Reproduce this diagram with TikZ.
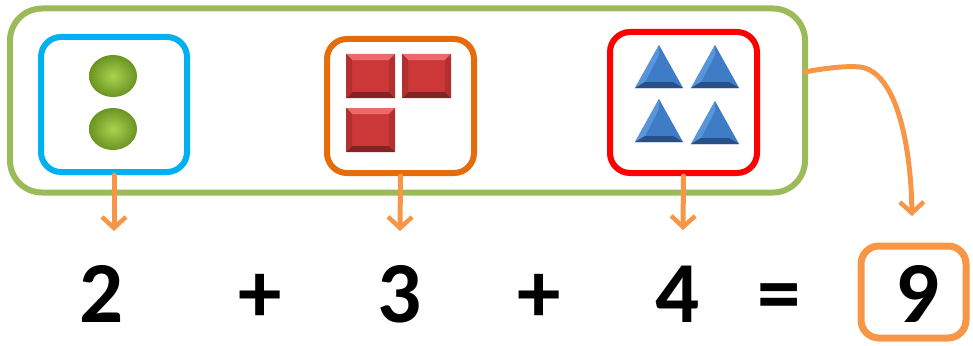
\documentclass[tikz,border=0pt]{standalone}
\usepackage{fontspec}
\setmainfont{Carlito}
\usetikzlibrary{arrows.meta}
\definecolor{gframe}{HTML}{9BBB59}
\definecolor{bframe}{HTML}{00B0F0}
\definecolor{oframe}{HTML}{E46C0A}
\definecolor{rframe}{HTML}{FF0000}
\definecolor{arrorange}{HTML}{F79646}
\definecolor{balllight}{HTML}{A8D452}
\definecolor{balldark}{HTML}{6A9420}
\definecolor{sqmid}{HTML}{CC3838}
\definecolor{sqlight}{HTML}{EC6A6A}
\definecolor{sqside}{HTML}{B23030}
\definecolor{sqdark}{HTML}{802424}
\definecolor{trimid}{HTML}{3F7CC6}
\definecolor{trilight}{HTML}{5896DC}
\definecolor{tridark}{HTML}{284F86}
\tikzset{
  framebox/.style={draw, line width=6pt, rounded corners=20pt, inner sep=0pt},
  arr/.style={draw=arrorange, line width=5pt, line cap=round, -{Straight Barb[length=11pt,width=24pt,line width=4.5pt]}},
  num/.style={font=\fontsize{87}{87}\selectfont\bfseries, inner sep=0pt, anchor=base},
  ballstyle/.style={inner color=balllight, outer color=balldark},
  rsq/.pic={
    \fill[sqmid] (0,0) rectangle (49,44);
    \fill[sqlight] (0,0) -- (49,0) -- (43,6) -- (6,6) -- cycle;
    \fill[sqdark] (0,44) -- (49,44) -- (43,38) -- (6,38) -- cycle;
    \fill[sqside] (0,0) -- (6,6) -- (6,38) -- (0,44) -- cycle;
    \fill[sqside] (49,0) -- (43,6) -- (43,38) -- (49,44) -- cycle;
  },
  btri/.pic={
    \fill[trimid] (0,0) -- (-24,43) -- (24,43) -- cycle;
    \fill[trilight] (0,0) -- (-24,43) -- (-14,37) -- (0,10) -- cycle;
    \fill[tridark] (-24,43) -- (24,43) -- (14,37) -- (-14,37) -- cycle;
  }
}
\begin{document}
\begin{tikzpicture}[x=1pt,y=-1pt]
\useasboundingbox (0,0) rectangle (973,345);
% group frame
\node[framebox, draw=gframe, rounded corners=32pt, minimum width=795pt, minimum height=184pt] (group) at (407.5,100.5) {};
% small frames
\node[framebox, draw=bframe, minimum width=146pt, minimum height=135pt] (blue) at (114,104.5) {};
\node[framebox, draw=oframe, minimum width=147pt, minimum height=134pt] (orange) at (400.5,106) {};
\node[framebox, draw=rframe, minimum width=147pt, minimum height=141pt] (red) at (683.5,102.5) {};
% balls
\shade[ballstyle] (113,76) ellipse [x radius=24pt, y radius=21pt];
\shade[ballstyle] (113,129) ellipse [x radius=24pt, y radius=21pt];
% squares
\pic at (346,54) {rsq};
\pic at (402,54) {rsq};
\pic at (346,108) {rsq};
% triangles
\pic at (659,45) {btri};
\pic at (715,45) {btri};
\pic at (659,99) {btri};
\pic at (715,101) {btri};
% arrow ends
\coordinate (a1) at (114,231);
\coordinate (a2) at (400,231);
\coordinate (a3) at (683,230);
\coordinate (c0) at (805,72);
\coordinate (a4) at (912,216);
\draw[arr] (blue.south) -- (a1);
\draw[arr] (orange.south) -- (a2);
\draw[arr] (red.south) -- (a3);
\draw[arr] (c0) .. controls (830,67) and (850,66) .. (860,67) .. controls (898,72) and (911,150) .. (a4);
% equation
\node[num] (n2) at (101.5,322) {2};
\node[num] (p1) at (260,322) {+};
\node[num] (n3) at (399.5,322) {3};
\node[num] (p2) at (539.5,322) {+};
\node[num] (n4) at (678,322) {4};
\node[num] (eq) at (779.5,322) {=};
\node[draw=arrorange, line width=7pt, rounded corners=18pt, inner sep=0pt, minimum width=105pt, minimum height=92pt] (ans) at (913.5,292) {};
\node[num] (n9) at (917.5,322) {9};
\end{tikzpicture}
\end{document}
